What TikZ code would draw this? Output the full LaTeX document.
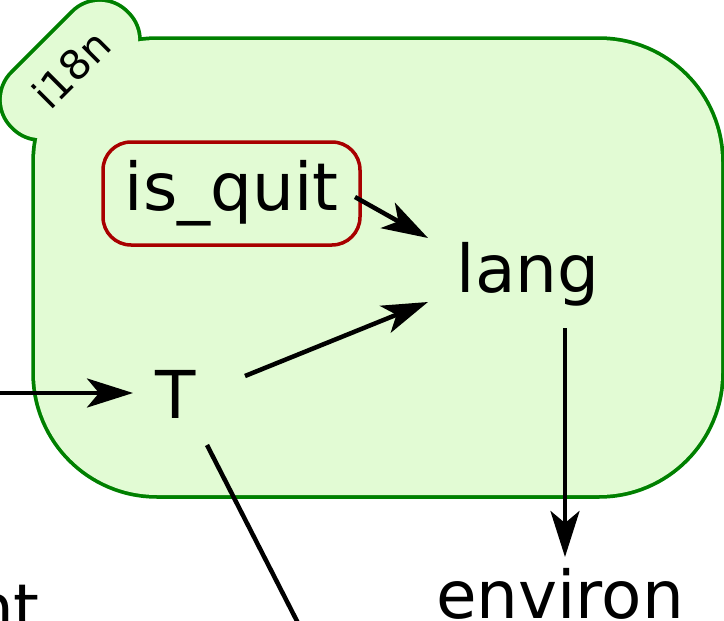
\documentclass[tikz,border=0pt]{standalone}
\usepackage{fontspec}
\setmainfont{DejaVu Sans}
\usetikzlibrary{arrows.meta}
\definecolor{clfill}{RGB}{226,251,212}
\definecolor{clline}{RGB}{0,128,0}
\definecolor{qred}{RGB}{168,0,0}
\tikzset{
  lbl/.style={font=\fontsize{66}{79}\selectfont, inner sep=0pt},
  edge/.style={line width=4.5pt, -{Stealth[length=46pt,width=29pt,inset=12pt]}},
  plainedge/.style={line width=4.5pt},
  tabshape/.style={rounded corners=37pt},
  clshape/.style={rounded corners=122pt},
}
\begin{document}
\begin{tikzpicture}[x=1pt,y=-1pt]
\useasboundingbox (0,0) rectangle (724,621);
\clip (0,0) rectangle (724,621);
% cluster outline (union of tab and body)
\begin{scope}[shift={(70,70)},rotate=45]
  \draw[clline, line width=7.5pt, tabshape] (-80,-38) rectangle (80,38);
\end{scope}
\draw[clline, line width=7.5pt, clshape] (35,40) rectangle (721,495);
\begin{scope}[shift={(70,70)},rotate=45]
  \fill[clfill, tabshape] (-80,-38) rectangle (80,38);
\end{scope}
\fill[clfill, clshape] (35,40) rectangle (721,495);
\node[font=\fontsize{41}{48}\selectfont, rotate=45, inner sep=0pt] (tab) at (71,69) {i18n};
% nodes
\node[lbl, draw=qred, line width=3.5pt, rounded corners=28pt, minimum width=257pt, minimum height=103pt] (isquit) at (231.5,193.5) {is\_quit};
\node[lbl, anchor=base] (lang) at (528,292) {lang};
\node[lbl, anchor=base] (T) at (176,418) {T};
\node[lbl, anchor=base] (environ) at (560,618) {environ};
\node[lbl, anchor=base east] (nt) at (40,631) {nt};
\coordinate (inL) at (-5,393);
\coordinate (outB) at (300,627);
% edges
\draw[edge] (inL) -- ([shift={(-43,-25)}]T.base);
\draw[edge] ([shift={(69,-42)}]T.base) -- ([shift={(-100,10)}]lang.base);
\draw[edge] ([shift={(123.5,3.5)}]isquit.center) -- ([shift={(-100,-54)}]lang.base);
\draw[edge] ([shift={(37,36)}]lang.base) -- ([shift={(5,-61)}]environ.base);
\draw[plainedge] ([shift={(31,27)}]T.base) -- (outB);
\end{tikzpicture}
\end{document}
